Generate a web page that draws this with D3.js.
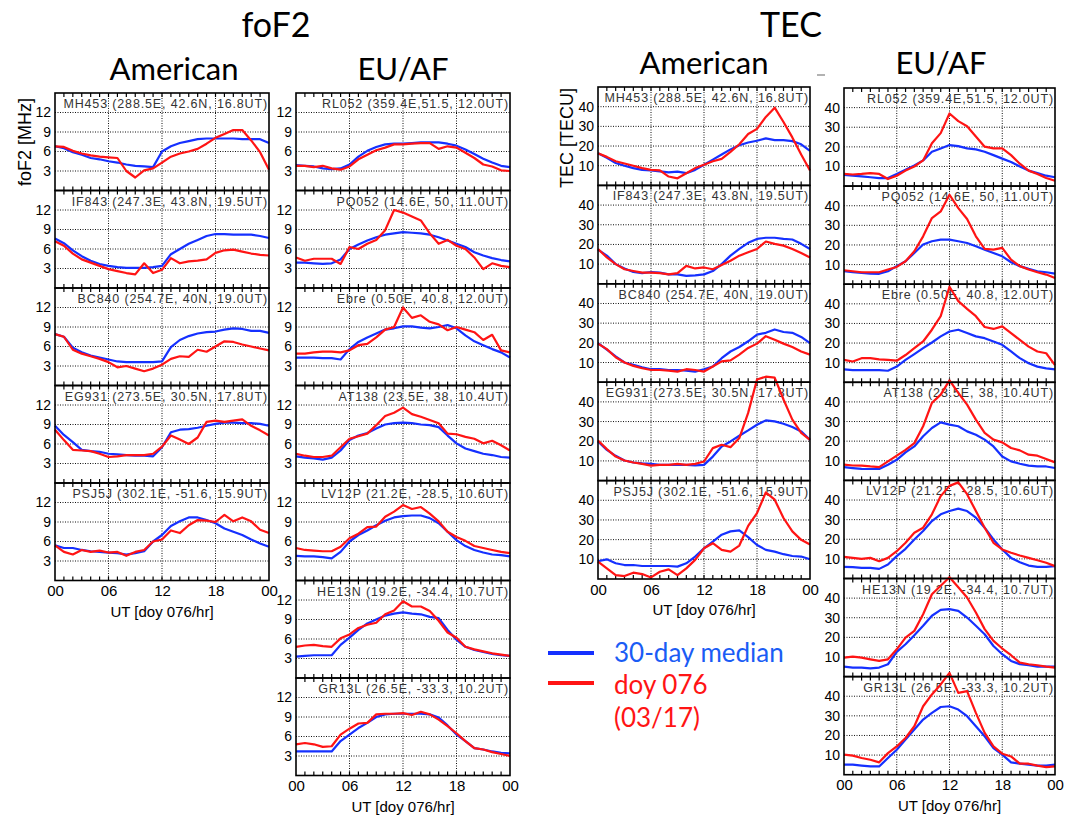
<!DOCTYPE html>
<html>
<head>
<meta charset="utf-8">
<script src="https://cdn.jsdelivr.net/npm/d3@7"></script>
<style>
  body { margin: 0; background: #fff; }
  svg text { font-family: "Liberation Sans", Arial, Helvetica, sans-serif; }
  .hd { font-family: Lato, "Open Sans", sans-serif; }
</style>
</head>
<body>
<div id="chart"></div>
<script>
// hours of the day, one value per hour
var hours = d3.range(0, 25);
var hourLabels = ["00", "06", "12", "18", "00"];

var amerStations = ["MH453 (288.5E, 42.6N, 16.8UT)", "IF843 (247.3E, 43.8N, 19.5UT)",
  "BC840 (254.7E, 40N, 19.0UT)", "EG931 (273.5E, 30.5N, 17.8UT)", "PSJ5J (302.1E, -51.6, 15.9UT)"];
var euafStations = ["RL052 (359.4E,51.5, 12.0UT)", "PQ052 (14.6E, 50, 11.0UT)",
  "Ebre (0.50E, 40.8, 12.0UT)", "AT138 (23.5E, 38, 10.4UT)", "LV12P (21.2E, -28.5, 10.6UT)",
  "HE13N (19.2E, -34.4, 10.7UT)", "GR13L (26.5E, -33.3, 10.2UT)"];

var fof2Ticks = [3, 6, 9, 12];
var tecTicks = [10, 20, 30, 40];

// foF2 [MHz], American
var foF2_MH453_median = [6.8,6.5,5.9,5.5,5.0,4.8,4.5,4.3,4.0,3.8,3.7,3.6,6.0,6.8,7.3,7.6,7.9,8.0,8.0,8.0,8.0,7.9,7.9,7.9,7.3];
var foF2_MH453_doy076 = [6.8,6.7,6.1,5.7,5.4,5.2,5.1,5.0,3.0,2.0,3.1,3.4,4.3,5.2,5.7,6.0,6.4,7.2,8.1,8.7,9.3,9.3,7.7,5.9,3.2];
var foF2_IF843_median = [7.6,6.9,5.8,4.9,4.2,3.7,3.4,3.2,3.1,3.1,3.1,3.2,3.4,5.2,6.0,6.8,7.4,8.0,8.3,8.3,8.2,8.2,8.2,8.0,7.7];
var foF2_IF843_doy076 = [7.2,6.5,5.3,4.4,3.9,3.4,2.9,2.6,2.3,2.1,3.8,2.3,2.8,4.6,3.8,4.1,4.2,4.4,5.4,5.8,5.9,5.6,5.3,5.1,5.0];
var foF2_BC840_median = [7.9,7.5,5.8,5.1,4.6,4.3,4.0,3.7,3.6,3.6,3.6,3.6,3.7,5.9,7.0,7.6,8.0,8.2,8.3,8.6,8.8,8.7,8.4,8.4,8.1];
var foF2_BC840_doy076 = [7.9,7.5,5.5,4.9,4.5,4.1,3.6,2.8,3.0,2.6,2.2,2.6,3.2,4.1,4.5,4.4,5.5,5.2,6.0,6.8,6.7,6.3,6.0,5.7,5.4];
var foF2_EG931_median = [8.8,7.4,6.3,5.1,4.9,4.8,4.5,4.4,4.3,4.2,4.2,4.1,5.5,7.8,8.2,8.3,8.5,8.8,9.1,9.3,9.3,9.2,9.2,9.1,8.8];
var foF2_EG931_doy076 = [8.2,6.6,5.1,5.0,4.9,4.5,4.0,4.1,4.3,4.3,4.3,4.5,5.6,7.3,6.7,6.0,7.0,9.4,9.6,9.4,9.6,9.8,8.8,8.1,7.3];
var foF2_PSJ5J_median = [5.4,5.0,5.0,4.7,4.5,4.4,4.3,4.2,4.0,4.2,4.5,6.0,7.0,8.4,9.1,9.7,9.7,9.3,8.8,8.0,7.5,7.0,6.3,5.7,5.2];
var foF2_PSJ5J_doy076 = [5.4,4.4,4.0,4.7,4.4,4.6,4.3,4.4,3.8,4.4,4.7,6.0,6.3,7.7,7.3,8.5,9.3,9.2,9.0,10.1,9.1,9.7,9.1,7.8,7.3];

// foF2 [MHz], EU/AF
var foF2_RL052_median = [3.9,3.8,3.7,3.4,3.3,3.4,4.0,5.2,6.1,6.7,7.1,7.2,7.2,7.3,7.4,7.4,7.4,7.2,6.9,6.3,5.6,4.9,4.3,3.8,3.6];
var foF2_RL052_doy076 = [3.8,3.8,3.6,3.8,3.4,3.2,3.7,4.8,5.5,6.2,6.6,7.1,7.1,7.2,7.3,7.3,6.4,6.8,6.6,5.8,5.0,4.0,3.7,3.1,3.0];
var foF2_PQ052_median = [3.9,3.9,3.8,3.7,3.8,4.4,6.0,6.7,7.3,7.8,8.2,8.4,8.6,8.5,8.4,8.2,7.8,7.3,6.8,6.3,5.5,5.0,4.6,4.3,4.1];
var foF2_PQ052_doy076 = [4.7,4.2,4.5,4.5,4.5,3.7,6.3,6.0,6.8,7.4,8.9,12.0,11.6,11.0,10.4,8.4,6.8,7.4,6.5,6.0,4.7,2.9,3.8,3.4,3.2];
var foF2_Ebre_median  = [4.3,4.3,4.3,4.2,4.2,4.0,5.6,6.7,7.4,8.0,8.6,8.8,9.1,9.1,8.9,8.8,9.0,9.3,8.8,7.7,6.8,6.2,5.6,5.1,4.3];
var foF2_Ebre_doy076  = [4.9,4.9,5.1,5.2,5.2,5.1,5.4,6.2,6.4,7.4,8.6,9.0,12.0,10.4,10.8,9.8,9.4,8.5,9.0,8.6,8.2,7.0,7.8,5.4,5.1];
var foF2_AT138_median = [4.1,3.9,3.8,3.6,3.9,5.0,6.6,7.3,7.7,8.4,9.0,9.2,9.3,9.2,9.0,8.9,8.6,7.3,6.1,5.3,4.9,4.5,4.3,4.0,3.9];
var foF2_AT138_doy076 = [4.5,4.2,4.0,4.0,4.2,5.5,6.8,7.2,7.6,8.9,10.3,10.8,11.6,10.6,10.2,9.7,9.2,7.6,7.5,7.1,6.8,6.1,6.5,5.8,5.0];
var foF2_LV12P_median = [3.8,3.7,3.7,3.6,3.4,4.4,6.0,7.0,7.7,8.5,9.2,9.7,9.9,10.0,10.0,9.6,8.8,7.5,6.2,5.3,4.7,4.3,4.0,3.9,3.7];
var foF2_LV12P_doy076 = [5.0,4.7,4.6,4.5,4.5,5.2,6.5,7.2,8.2,8.3,9.8,10.6,11.6,11.0,11.3,10.3,9.1,7.5,6.7,6.1,5.3,5.0,4.7,4.4,4.2];
var foF2_HE13N_median = [3.3,3.4,3.5,3.5,3.5,5.1,6.2,7.4,8.4,9.0,9.6,9.9,10.1,9.9,9.8,9.4,9.2,7.4,5.9,4.8,4.3,4.0,3.7,3.5,3.4];
var foF2_HE13N_doy076 = [4.8,5.0,5.1,4.9,4.8,6.1,6.7,7.7,8.2,8.5,9.8,10.4,11.8,11.0,11.0,10.3,8.8,7.0,6.2,4.8,4.4,4.1,3.8,3.6,3.4];
var foF2_GR13L_median = [3.7,3.7,3.7,3.7,3.7,5.3,6.3,7.3,8.1,9.0,9.4,9.5,9.5,9.5,9.5,9.4,8.9,7.7,6.3,5.3,4.2,4.0,3.7,3.5,3.4];
var foF2_GR13L_doy076 = [4.8,5.0,4.8,4.4,4.5,6.3,7.2,8.0,8.1,9.4,9.5,9.5,9.6,9.3,9.8,9.4,8.6,7.6,6.5,5.3,4.2,4.0,3.6,3.3,3.0];

// TEC [TECU], American
var tec_MH453_median = [16.3,14.0,11.4,10.0,8.8,7.9,7.6,7.1,6.6,7.0,6.2,7.9,10.5,13.1,15.7,18.3,20.4,21.8,22.7,23.9,23.0,23.0,22.5,20.9,17.5];
var tec_MH453_doy076 = [16.3,14.5,12.3,11.1,10.0,8.8,7.9,7.6,4.5,3.6,6.2,8.8,10.5,12.3,13.5,17.0,20.9,26.1,28.7,34.8,39.5,32.2,24.4,15.7,7.6];
var tec_IF843_median = [17.4,14.3,10.0,7.8,6.0,5.4,6.0,5.7,4.8,4.8,4.0,4.3,4.8,6.5,10.0,14.3,17.7,20.8,22.8,23.4,23.4,22.8,22.5,20.3,17.7];
var tec_IF843_doy076 = [17.7,13.4,10.0,7.4,6.5,5.7,5.7,5.4,4.8,5.4,9.1,7.8,8.3,7.4,9.5,11.7,14.3,16.0,17.7,21.5,20.3,19.4,17.7,15.6,13.4];
var tec_BC840_median = [19.9,16.5,13.1,10.0,8.8,7.6,6.6,6.6,6.2,6.2,5.9,5.4,6.6,8.0,12.2,15.6,17.9,20.8,24.2,25.1,26.8,25.5,25.1,23.0,19.9];
var tec_BC840_doy076 = [19.6,16.8,12.7,10.0,8.3,7.1,6.2,6.2,5.9,5.4,6.6,6.2,5.4,8.0,10.6,11.1,14.0,17.4,19.6,23.4,21.6,19.6,17.9,15.6,14.0];
var tec_EG931_median = [19.9,15.6,12.6,10.2,9.2,8.8,8.5,8.0,8.0,8.0,8.0,7.7,8.0,12.2,17.3,19.9,22.8,25.5,28.4,30.6,30.1,28.9,27.2,25.0,20.7];
var tec_EG931_doy076 = [20.4,16.0,12.2,10.2,9.2,8.5,7.6,8.0,8.0,8.5,8.0,8.5,9.7,16.5,18.2,17.0,21.6,34.4,51.4,52.8,52.3,41.2,31.0,24.2,20.7];
var tec_PSJ5J_median = [9.0,10.0,8.0,7.1,7.1,6.6,6.6,6.6,6.6,6.3,8.0,11.4,15.6,19.0,22.5,24.2,24.7,21.3,17.3,14.8,13.9,12.6,11.7,11.4,10.0];
var tec_PSJ5J_doy076 = [8.8,5.4,2.0,1.5,3.2,2.5,0.8,3.7,4.9,2.0,5.4,9.7,15.6,18.2,14.8,13.9,17.0,27.0,33.5,44.0,40.3,31.0,24.2,19.9,17.5];

// TEC [TECU], EU/AF
var tec_RL052_median = [5.7,5.3,5.0,4.5,4.1,4.1,6.2,8.3,10.5,13.1,17.5,19.2,20.9,20.4,19.2,18.7,17.5,15.8,14.0,12.3,10.0,7.9,6.6,5.3,4.5];
var tec_RL052_doy076 = [6.2,5.9,6.2,6.6,6.2,3.6,5.3,7.9,10.0,13.1,21.8,27.0,37.0,33.1,30.5,25.3,20.1,19.2,19.2,15.8,11.4,7.9,6.2,4.1,2.7];
var tec_PQ052_median = [6.6,6.1,5.8,5.4,5.3,6.6,9.2,11.7,15.9,20.2,21.9,22.7,22.7,21.9,21.0,19.3,17.6,15.9,14.2,11.2,9.2,7.8,6.6,6.1,5.4];
var tec_PQ052_doy076 = [7.1,6.6,6.1,6.1,6.1,7.5,8.8,11.7,16.8,24.4,33.7,37.1,45.6,38.8,33.2,24.4,18.0,17.6,18.5,12.5,9.2,7.5,6.1,4.9,3.2];
var tec_Ebre_median  = [6.6,6.2,6.2,6.2,6.2,5.9,8.0,11.4,14.4,17.4,20.3,23.4,25.9,26.8,25.1,23.4,22.5,20.8,19.1,15.7,12.3,9.7,8.0,7.1,6.6];
var tec_Ebre_doy076  = [11.4,10.6,12.3,12.3,11.7,11.4,11.0,13.9,17.4,20.8,26.8,33.7,48.7,41.4,37.4,33.7,28.2,27.2,28.5,25.1,21.6,18.2,15.7,14.8,8.8];
var tec_AT138_median = [6.8,6.3,5.9,5.8,5.8,8.0,10.5,14.3,17.3,22.5,26.7,29.6,28.4,27.6,25.0,23.3,20.8,17.3,12.2,9.7,8.5,7.5,7.1,7.1,6.3];
var tec_AT138_doy076 = [8.0,7.6,7.5,7.1,6.8,9.7,12.6,15.6,19.0,27.6,39.5,43.7,51.0,44.6,38.6,31.0,24.2,20.8,19.4,16.5,15.3,13.1,12.6,10.9,9.2];
var tec_LV12P_median = [5.9,5.8,5.4,5.4,4.9,7.1,11.4,15.1,19.9,24.2,29.3,32.7,34.4,35.6,34.4,31.0,25.9,19.9,14.8,10.5,8.3,6.6,5.9,5.9,6.3];
var tec_LV12P_doy076 = [11.0,10.5,10.0,10.5,8.8,10.5,13.9,18.2,23.3,25.9,32.7,42.0,47.2,49.0,43.0,34.4,25.9,18.2,14.8,13.1,11.7,10.5,9.3,8.0,6.3];
var tec_HE13N_median = [5.1,4.6,4.6,4.2,4.6,6.3,12.6,16.5,21.1,25.9,31.0,34.0,34.4,33.5,30.1,25.9,21.6,15.6,11.4,8.0,6.3,5.8,5.1,5.1,5.1];
var tec_HE13N_doy076 = [9.7,10.2,9.7,8.8,8.0,8.8,13.9,19.9,23.3,31.8,42.0,46.3,50.6,45.5,40.3,32.7,24.2,18.2,14.3,10.9,7.1,6.3,5.8,5.1,4.6];
var tec_GR13L_median = [5.1,5.1,4.6,4.2,4.2,8.5,12.7,17.9,23.0,28.1,31.5,34.5,34.9,33.2,29.8,24.7,19.6,13.6,10.2,6.3,5.6,5.1,4.6,4.6,5.1];
var tec_GR13L_doy076 = [10.2,9.7,8.5,7.6,6.3,11.0,14.4,18.7,24.7,34.9,40.9,46.0,51.9,41.7,42.6,31.5,21.3,14.4,10.7,9.3,5.6,5.6,4.6,3.9,4.2];

var blue = "#1530ff", red = "#ff1414";

var W = 1074, H = 815;
var svg = d3.select("#chart").append("svg")
  .attr("width", W)
  .attr("height", H);

// columns of panels
var columns = [
  { x0: 55, x1: 269, top: 93, h: 97.5, domain: [0, 15], ticks: fof2Ticks, labels: amerStations,
    median: [foF2_MH453_median, foF2_IF843_median, foF2_BC840_median, foF2_EG931_median, foF2_PSJ5J_median],
    doy: [foF2_MH453_doy076, foF2_IF843_doy076, foF2_BC840_doy076, foF2_EG931_doy076, foF2_PSJ5J_doy076] },
  { x0: 296, x1: 510, top: 93, h: 97.5, domain: [0, 15], ticks: fof2Ticks, labels: euafStations,
    median: [foF2_RL052_median, foF2_PQ052_median, foF2_Ebre_median, foF2_AT138_median, foF2_LV12P_median, foF2_HE13N_median, foF2_GR13L_median],
    doy: [foF2_RL052_doy076, foF2_PQ052_doy076, foF2_Ebre_doy076, foF2_AT138_doy076, foF2_LV12P_doy076, foF2_HE13N_doy076, foF2_GR13L_doy076] },
  { x0: 598, x1: 810, top: 87, h: 98.4, domain: [0, 50], ticks: tecTicks, labels: amerStations,
    median: [tec_MH453_median, tec_IF843_median, tec_BC840_median, tec_EG931_median, tec_PSJ5J_median],
    doy: [tec_MH453_doy076, tec_IF843_doy076, tec_BC840_doy076, tec_EG931_doy076, tec_PSJ5J_doy076] },
  { x0: 844, x1: 1055, top: 88, h: 98.1, domain: [0, 50], ticks: tecTicks, labels: euafStations,
    median: [tec_RL052_median, tec_PQ052_median, tec_Ebre_median, tec_AT138_median, tec_LV12P_median, tec_HE13N_median, tec_GR13L_median],
    doy: [tec_RL052_doy076, tec_PQ052_doy076, tec_Ebre_doy076, tec_AT138_doy076, tec_LV12P_doy076, tec_HE13N_doy076, tec_GR13L_doy076] }
];

var drawColumn = function (col) {
  var x = d3.scaleLinear().domain([0, 24]).range([col.x0, col.x1]);
  var n = col.labels.length;

  col.labels.forEach(function (label, i) {
    var top = col.top + i * col.h, bot = top + col.h;
    var y = d3.scaleLinear().domain(col.domain).range([bot, top]);
    var g = svg.append("g");

    // dotted grid
    g.selectAll(".hgrid").data(col.ticks).enter().append("line")
      .attr("x1", col.x0).attr("x2", col.x1)
      .attr("y1", function (d) { return y(d); }).attr("y2", function (d) { return y(d); })
      .attr("stroke", "#111").attr("stroke-width", 1).attr("stroke-dasharray", "1,1.5");
    g.selectAll(".vgrid").data([6, 12, 18]).enter().append("line")
      .attr("x1", function (d) { return x(d); }).attr("x2", function (d) { return x(d); })
      .attr("y1", top).attr("y2", bot)
      .attr("stroke", "#111").attr("stroke-width", 1).attr("stroke-dasharray", "1,1.5");

    // hour ticks, top and bottom, pointing in
    var hrs = d3.range(1, 24);
    g.selectAll(".ttick").data(hrs).enter().append("line")
      .attr("x1", function (d) { return x(d); }).attr("x2", function (d) { return x(d); })
      .attr("y1", top).attr("y2", top + 4)
      .attr("stroke", "#000").attr("stroke-width", 1.2);
    g.selectAll(".btick").data(hrs).enter().append("line")
      .attr("x1", function (d) { return x(d); }).attr("x2", function (d) { return x(d); })
      .attr("y1", bot).attr("y2", bot - 4)
      .attr("stroke", "#000").attr("stroke-width", 1.2);

    // station label
    g.append("text")
      .attr("x", col.x1 - 1).attr("y", top + 15)
      .attr("text-anchor", "end")
      .attr("font-size", 12.5)
      .attr("letter-spacing", 0.85)
      .attr("fill", "#333")
      .text(label);

    // y tick labels
    var ya = g.append("g")
      .attr("transform", "translate(" + col.x0 + ",0)")
      .call(d3.axisLeft(y).tickValues(col.ticks).tickSize(0).tickPadding(4));
    ya.select(".domain").remove();
    ya.selectAll("text").attr("font-size", 14).attr("font-family", "Liberation Sans, Arial, sans-serif").attr("fill", "#000");

    var line = d3.line()
      .x(function (d, j) { return x(hours[j]); })
      .y(function (d) { return y(d); });

    g.append("path").datum(col.median[i])
      .attr("d", line).attr("fill", "none")
      .attr("stroke", blue).attr("stroke-width", 2.2).attr("stroke-linejoin", "round");
    g.append("path").datum(col.doy[i])
      .attr("d", line).attr("fill", "none")
      .attr("stroke", red).attr("stroke-width", 2.2).attr("stroke-linejoin", "round");

    // frame
    g.append("rect")
      .attr("x", col.x0).attr("y", top)
      .attr("width", col.x1 - col.x0).attr("height", col.h)
      .attr("fill", "none").attr("stroke", "#000").attr("stroke-width", 1.6);
  });

  var bottom = col.top + n * col.h;
  var xa = svg.append("g")
    .attr("transform", "translate(0," + bottom + ")")
    .call(d3.axisBottom(x).tickValues([0, 6, 12, 18, 24])
      .tickFormat(function (d, i) { return hourLabels[i]; })
      .tickSize(0).tickPadding(5));
  xa.select(".domain").remove();
  xa.selectAll("text").attr("font-size", 15).attr("font-family", "Liberation Sans, Arial, sans-serif").attr("fill", "#000");

  svg.append("text")
    .attr("x", (col.x0 + col.x1) / 2).attr("y", bottom + 36)
    .attr("text-anchor", "middle")
    .attr("font-size", 15)
    .text("UT [doy 076/hr]");
};

columns.forEach(drawColumn);

// y axis titles
svg.append("text")
  .attr("transform", "translate(31,142) rotate(-90)")
  .attr("text-anchor", "middle").attr("font-size", 18)
  .text("foF2 [MHz]");
svg.append("text")
  .attr("transform", "translate(573,138) rotate(-90)")
  .attr("text-anchor", "middle").attr("font-size", 18)
  .text("TEC [TECU]");

// headings
var heads = [
  { t: "foF2", x: 276, y: 37, s: 34 },
  { t: "TEC", x: 791, y: 37, s: 34 },
  { t: "American", x: 174, y: 80, s: 31 },
  { t: "EU/AF", x: 403, y: 80, s: 31 },
  { t: "American", x: 704, y: 74, s: 31 },
  { t: "EU/AF", x: 941, y: 74, s: 31 }
];
svg.selectAll(".hd").data(heads).enter().append("text")
  .attr("class", "hd")
  .attr("x", function (d) { return d.x; }).attr("y", function (d) { return d.y; })
  .attr("text-anchor", "middle")
  .attr("font-size", function (d) { return d.s; })
  .text(function (d) { return d.t; });

svg.append("line")
  .attr("x1", 817).attr("x2", 825).attr("y1", 75).attr("y2", 75)
  .attr("stroke", "#999").attr("stroke-width", 1.5);

// legend
var legend = svg.append("g");
legend.append("line").attr("x1", 548).attr("x2", 594).attr("y1", 653).attr("y2", 653)
  .attr("stroke", blue).attr("stroke-width", 4);
legend.append("line").attr("x1", 548).attr("x2", 594).attr("y1", 683).attr("y2", 683)
  .attr("stroke", red).attr("stroke-width", 4);
legend.append("text").attr("class", "hd").attr("x", 614).attr("y", 662)
  .attr("font-size", 26).attr("fill", "#1a5cf5").text("30-day median");
legend.append("text").attr("class", "hd").attr("x", 614).attr("y", 694)
  .attr("font-size", 26).attr("fill", red).text("doy 076");
legend.append("text").attr("class", "hd").attr("x", 614).attr("y", 727)
  .attr("font-size", 26).attr("fill", red).text("(03/17)");
</script>
</body>
</html>
